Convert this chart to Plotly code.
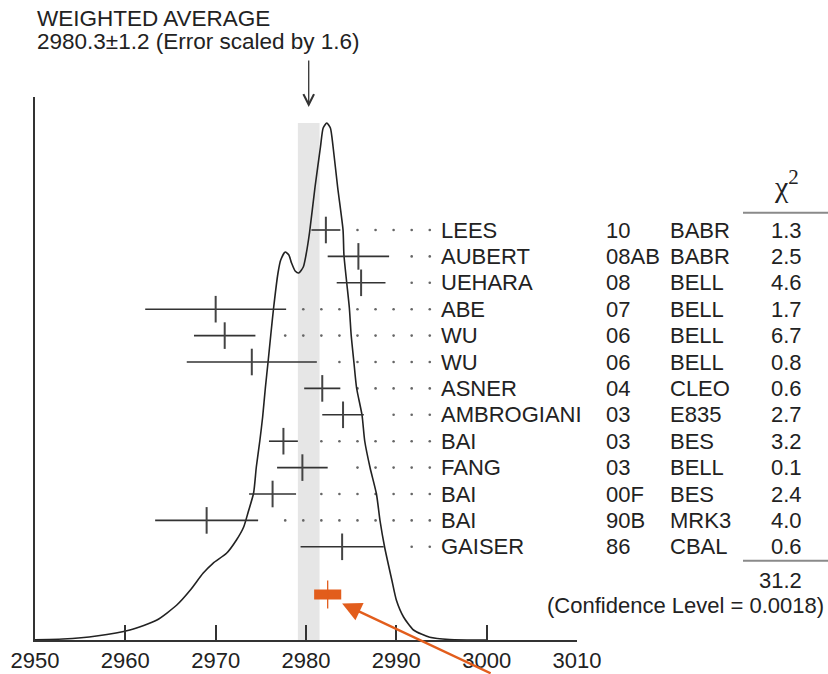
import plotly.graph_objects as go

# ---- measurements (MeV) ----
names = ["LEES", "AUBERT", "UEHARA", "ABE", "WU", "WU", "ASNER", "AMBROGIANI",
         "BAI", "FANG", "BAI", "BAI", "GAISER"]
refs = ["10", "08AB", "08", "07", "06", "06", "04", "03", "03", "03", "00F", "90B", "86"]
expts = ["BABR", "BABR", "BELL", "BELL", "BELL", "BELL", "CLEO", "E835", "BES",
         "BELL", "BES", "MRK3", "CBAL"]
chi2 = ["1.3", "2.5", "4.6", "1.7", "6.7", "0.8", "0.6", "2.7", "3.2", "0.1", "2.4", "4.0", "0.6"]
values = [2982.2, 2985.8, 2986.1, 2970.0, 2971.0, 2974.0, 2981.8, 2984.1,
          2977.5, 2979.6, 2976.3, 2969.0, 2984.0]
errors = [1.6, 3.4, 2.7, 7.8, 3.4, 7.2, 2.0, 2.3, 1.6, 2.8, 2.6, 5.7, 4.6]

chi2_total = "31.2"
conf_level = "0.0018"
avg_value = 2980.3
avg_error = 1.2
scale_factor = 1.6

highlight_value = 2982.4
highlight_error = 1.5

# ideogram curve (mass, relative height)
curve_mass = [2950.0, 2953.1, 2956.8, 2960.5, 2963.5, 2965.7, 2967.2, 2968.6, 2969.7,
              2971.2, 2972.3, 2973.1, 2973.6, 2974.2, 2974.5, 2974.9, 2975.2, 2975.5,
              2975.8, 2976.1, 2976.4, 2976.9, 2977.2, 2977.7, 2978.1, 2978.4, 2978.8,
              2979.2, 2979.7, 2980.0, 2980.4, 2981.0, 2981.6, 2981.9, 2982.3, 2982.7,
              2983.0, 2983.5, 2984.1, 2984.2, 2984.5, 2984.8, 2985.0, 2985.3, 2985.6,
              2986.2, 2986.5, 2987.1, 2987.8, 2988.2, 2988.7, 2989.5, 2990.0, 2990.8,
              2991.9, 2993.7, 2995.9, 3000.0]
curve_height = [0.3, 1, 4, 10, 20, 35, 50, 66.7, 76.7,
                86.7, 100, 113, 128, 147, 173, 200, 223, 252,
                278, 305, 331, 367, 380, 388, 385, 377, 369,
                367, 373, 385, 408, 453, 493, 512, 517, 512,
                493, 453, 410, 385, 358, 332, 305, 278, 252,
                225, 199, 172, 146, 119, 93, 60, 40, 23,
                10, 2.7, 0.5, 0]

x_ticks = [2950, 2960, 2970, 2980, 2990, 3000, 3010]

# ---- layout constants ----
W, H = 828, 674
ML, MR, MT, MB = 35, 251, 97, 34
PLOT_W = W - ML - MR
Y_TOP = H - MT - MB
ROW_TOP = 410
ROW_STEP = 26.4
FONT = "Liberation Sans, Arial, Helvetica, sans-serif"
INK = "#222222"
ORANGE = "#E25D1C"

row_y = [ROW_TOP - ROW_STEP * i for i in range(len(names))]


def px_to_paper(px):
    return (px - ML) / PLOT_W


def py_to_height(py):
    return H - MB - py


fig = go.Figure()

# error band of the weighted average
fig.add_shape(type="rect", xref="x", yref="y",
              x0=avg_value - avg_error, x1=avg_value + avg_error,
              y0=0, y1=max(curve_height),
              fillcolor="#e6e6e6", line_width=0, layer="below")

# leader dots between each bar and its label
dot_grid = [2965.7 + 2 * k for k in range(15)]
dot_x, dot_y = [], []
for v, e, y in zip(values, errors, row_y):
    for g in dot_grid:
        if g > v + e + 1.5:
            dot_x.append(g)
            dot_y.append(y)
fig.add_trace(go.Scatter(x=dot_x, y=dot_y, mode="markers",
                         marker=dict(size=2.6, color="#666666"),
                         hoverinfo="skip", showlegend=False))

# ideogram
fig.add_trace(go.Scatter(x=curve_mass, y=curve_height, mode="lines",
                         line=dict(color=INK, width=1.6, shape="spline", smoothing=0.6),
                         hoverinfo="skip", showlegend=False))

# individual measurements
fig.add_trace(go.Scatter(
    x=values, y=row_y, mode="markers",
    marker=dict(symbol="line-ns", size=19, line=dict(width=2, color="#444444")),
    error_x=dict(type="data", array=errors, visible=True, width=0,
                 thickness=1.6, color="#333333"),
    hoverinfo="skip", showlegend=False))

# highlighted value
hl_y = 45.5
fig.add_trace(go.Scatter(
    x=[highlight_value], y=[hl_y], mode="markers",
    marker=dict(symbol="line-ns", size=20, line=dict(width=1.3, color=ORANGE)),
    error_x=dict(type="data", array=[highlight_error], visible=True, width=0,
                 thickness=10, color=ORANGE),
    hoverinfo="skip", showlegend=False))

annotations = []
txt = dict(family=FONT, size=22, color=INK)
title_font = dict(family=FONT, size=22.5, color=INK)

# title block
annotations.append(dict(xref="paper", yref="paper", x=0, y=py_to_height(18) / Y_TOP,
                        xanchor="left", yanchor="middle", showarrow=False,
                        text="WEIGHTED AVERAGE", font=title_font))
annotations.append(dict(xref="paper", yref="paper", x=0, y=py_to_height(42) / Y_TOP,
                        xanchor="left", yanchor="middle", showarrow=False,
                        text=f"{avg_value:.1f}\u00b1{avg_error:.1f} (Error scaled by {scale_factor:.1f})",
                        font=title_font))

# arrow at the weighted average
annotations.append(dict(x=avg_value, y=py_to_height(107), xref="x", yref="y", text="",
                        showarrow=True, ax=0, ay=-48, arrowhead=5, arrowsize=1.6,
                        arrowwidth=1.3, arrowcolor="#333333", standoff=0))

# orange pointer
annotations.append(dict(x=highlight_value + highlight_error + 0.1, y=hl_y - 9,
                        xref="x", yref="y", text="", showarrow=True,
                        ax=150, ay=76, arrowhead=2, arrowsize=1.6, arrowwidth=2.4,
                        arrowcolor=ORANGE, standoff=0))

# table columns
for n, r, ex, c, y in zip(names, refs, expts, chi2, row_y):
    annotations.append(dict(xref="paper", yref="y", x=px_to_paper(439), y=y,
                            xanchor="left", yanchor="middle", showarrow=False,
                            text=n, font=txt))
    annotations.append(dict(xref="paper", yref="y", x=px_to_paper(603.5), y=y,
                            xanchor="left", yanchor="middle", showarrow=False,
                            text=r, font=txt))
    annotations.append(dict(xref="paper", yref="y", x=px_to_paper(667.5), y=y,
                            xanchor="left", yanchor="middle", showarrow=False,
                            text=ex, font=txt))
    annotations.append(dict(xref="paper", yref="y", x=px_to_paper(804), y=y,
                            xanchor="right", yanchor="middle", showarrow=False,
                            text=c, font=txt))

# chi-square header, total and confidence level
annotations.append(dict(xref="paper", yref="y", x=px_to_paper(786), y=py_to_height(184),
                        xanchor="center", yanchor="middle", showarrow=False,
                        text="\u03c7<sup>2</sup>",
                        font=dict(family="Liberation Serif, Times New Roman, serif",
                                  size=30, color=INK)))
annotations.append(dict(xref="paper", yref="y", x=px_to_paper(804), y=py_to_height(580),
                        xanchor="right", yanchor="middle", showarrow=False,
                        text=chi2_total, font=txt))
annotations.append(dict(xref="paper", yref="y", x=px_to_paper(826), y=py_to_height(605),
                        xanchor="right", yanchor="middle", showarrow=False,
                        text=f"(Confidence Level = {conf_level})", font=txt))

for py in (212.7, 560.7):
    fig.add_shape(type="line", xref="paper", yref="y",
                  x0=px_to_paper(743), x1=px_to_paper(828),
                  y0=py_to_height(py), y1=py_to_height(py),
                  line=dict(color="#8a8a8a", width=2))

fig.update_layout(
    width=W, height=H,
    margin=dict(l=ML, r=MR, t=MT, b=MB, pad=0, autoexpand=False),
    paper_bgcolor="white", plot_bgcolor="white",
    annotations=annotations,
    showlegend=False,
    xaxis=dict(range=[x_ticks[0], x_ticks[-1]], tickvals=x_ticks,
               ticks="inside", ticklen=15, tickwidth=1.5, tickcolor="#333333",
               showline=True, linecolor="#333333", linewidth=1.6,
               showgrid=False, zeroline=False, automargin=False,
               tickfont=dict(family=FONT, size=22, color=INK)),
    yaxis=dict(range=[0, Y_TOP], showline=True, linecolor="#333333", linewidth=1.6,
               showticklabels=False, ticks="", showgrid=False, zeroline=False,
               automargin=False),
)

fig.write_html("out.html")
